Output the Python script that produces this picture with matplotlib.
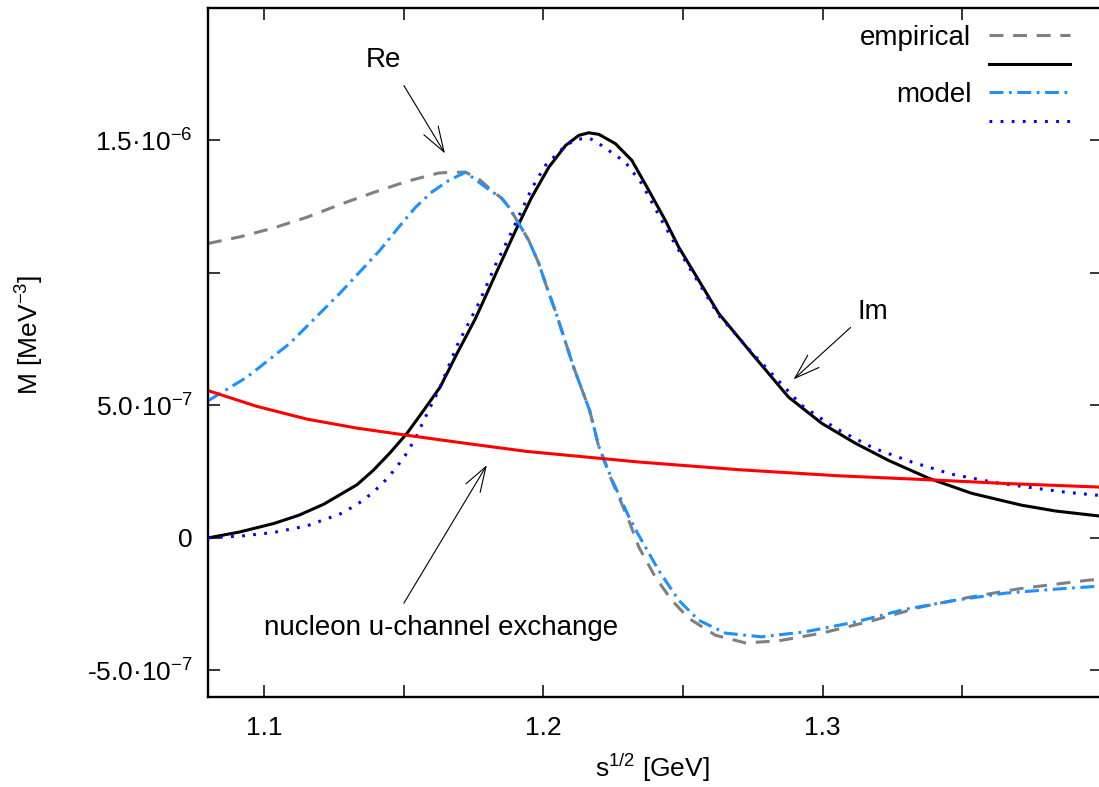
import numpy as np
import matplotlib
matplotlib.use("Agg")
import matplotlib.pyplot as plt

plt.rcParams['font.family'] = ['Liberation Sans', 'DejaVu Sans']
plt.rcParams['mathtext.fontset'] = 'custom'
plt.rcParams['mathtext.rm'] = 'Liberation Sans'
plt.rcParams['mathtext.it'] = 'Liberation Sans:italic'
plt.rcParams['mathtext.bf'] = 'Liberation Sans:bold'
plt.rcParams['lines.scale_dashes'] = False

# values, y in units of 1e-6 MeV^-3
x_re_emp = [1.080, 1.0914, 1.1036, 1.1154, 1.1272, 1.1394, 1.1513, 1.1626, 1.1673, 1.1722,
            1.1769, 1.1816, 1.1852, 1.1877, 1.1912, 1.1948, 1.1984, 1.2013, 1.2045, 1.2109,
            1.2166, 1.2199, 1.2245, 1.2306, 1.2342, 1.2401, 1.2460, 1.2521, 1.2616, 1.2724,
            1.2843, 1.2997, 1.3175, 1.3354, 1.3533, 1.3712, 1.3952, 1.400]
y_re_emp = [1.111, 1.136, 1.170, 1.210, 1.258, 1.304, 1.346, 1.377, 1.380, 1.380,
            1.355, 1.311, 1.281, 1.248, 1.187, 1.123, 1.036, 0.945, 0.851, 0.643,
            0.481, 0.342, 0.217, 0.066, -0.035, -0.148, -0.236, -0.304, -0.368, -0.397,
            -0.389, -0.360, -0.314, -0.261, -0.223, -0.191, -0.160, -0.156]

x_re_mod = [1.0803, 1.0939, 1.1093, 1.1272, 1.1415, 1.1483, 1.1543, 1.1601, 1.1662, 1.1722,
            1.1793, 1.1852, 1.1877, 1.1912, 1.1948, 1.1984, 1.2013, 1.2045, 1.2109, 1.2166,
            1.2199, 1.2245, 1.2306, 1.2342, 1.2413, 1.2485, 1.2556, 1.2652, 1.2782, 1.2938,
            1.3117, 1.3296, 1.3475, 1.3654, 1.3833, 1.400]
y_re_mod = [0.519, 0.606, 0.734, 0.923, 1.085, 1.173, 1.248, 1.305, 1.349, 1.380,
            1.324, 1.281, 1.248, 1.187, 1.123, 1.036, 0.945, 0.851, 0.643, 0.481,
            0.345, 0.222, 0.080, 0.009, -0.123, -0.236, -0.311, -0.360, -0.374, -0.355,
            -0.318, -0.270, -0.236, -0.209, -0.194, -0.182]

x_im_emp = [1.0803, 1.0914, 1.1036, 1.1125, 1.1215, 1.1333, 1.1392, 1.1451, 1.1512, 1.1572,
            1.1631, 1.1691, 1.1757, 1.1841, 1.1901, 1.1959, 1.2020, 1.2080, 1.2127, 1.2163,
            1.2199, 1.2258, 1.2317, 1.2378, 1.2437, 1.2485, 1.2628, 1.2746, 1.2878, 1.2997,
            1.3117, 1.3236, 1.3379, 1.3533, 1.3712, 1.3834, 1.400]
y_im_emp = [0.000, 0.022, 0.054, 0.085, 0.127, 0.200, 0.255, 0.320, 0.394, 0.481,
            0.569, 0.695, 0.827, 1.022, 1.160, 1.286, 1.399, 1.481, 1.519, 1.529,
            1.523, 1.488, 1.425, 1.311, 1.198, 1.097, 0.847, 0.696, 0.531, 0.432,
            0.357, 0.292, 0.225, 0.168, 0.123, 0.101, 0.081]

x_im_mod = [1.0803, 1.0914, 1.1035, 1.1154, 1.1273, 1.1333, 1.1392, 1.1440, 1.1476, 1.1512,
            1.1547, 1.1571, 1.1631, 1.1691, 1.1769, 1.1829, 1.1887, 1.1959, 1.2008, 1.2080,
            1.2120, 1.2165, 1.2209, 1.2294, 1.2352, 1.2424, 1.2485, 1.2628, 1.2746, 1.2925,
            1.3047, 1.3183, 1.3319, 1.3462, 1.3619, 1.3762, 1.3870, 1.400]
y_im_mod = [0.000, 0.006, 0.020, 0.045, 0.090, 0.125, 0.172, 0.222, 0.268, 0.320,
            0.385, 0.440, 0.569, 0.725, 0.885, 1.030, 1.155, 1.319, 1.406, 1.481,
            1.504, 1.509, 1.481, 1.418, 1.338, 1.198, 1.085, 0.840, 0.700, 0.500,
            0.413, 0.338, 0.286, 0.240, 0.208, 0.187, 0.172, 0.159]

x_nuc = [1.0796, 1.0975, 1.1154, 1.1333, 1.1512, 1.1726, 1.1941, 1.2342, 1.2699, 1.3057,
         1.3379, 1.3654, 1.400]
y_nuc = [0.557, 0.496, 0.448, 0.414, 0.387, 0.356, 0.326, 0.286, 0.257, 0.234,
         0.219, 0.205, 0.191]

scale = 1e-6

xticks = [1.1, 1.15, 1.2, 1.25, 1.3, 1.35]
xticklabels = ['1.1', '', '1.2', '', '1.3', '']
yticks = [-5e-7, 0, 5e-7, 1e-6, 1.5e-6]
yticklabels = [r'-5.0·10$^{-7}$', '0', r'5.0·10$^{-7}$', '', r'1.5·10$^{-6}$']

fs = 19
fs_txt = 20

fig = plt.figure(figsize=(10.99, 7.87), dpi=100)
ax = fig.add_axes([208/1099, 90.3/787, 894/1099, 688.7/787])

l_re_emp, = ax.plot(x_re_emp, np.array(y_re_emp)*scale, color='#808080', lw=2.2, dashes=(10, 7))
l_im_emp, = ax.plot(x_im_emp, np.array(y_im_emp)*scale, color='black', lw=2.2)
l_re_mod, = ax.plot(x_re_mod, np.array(y_re_mod)*scale, color='#1e90ff', lw=2.2, dashes=(10, 4, 2, 4))
l_im_mod, = ax.plot(x_im_mod, np.array(y_im_mod)*scale, color='#0000ff', lw=2.2, dashes=(2, 6))
ax.plot(x_nuc, np.array(y_nuc)*scale, color='#ff0000', lw=2.2)

ax.set_xlim(1.08, 1.40)
ax.set_ylim(-6e-7, 2e-6)
ax.set_xticks(xticks)
ax.set_xticklabels(xticklabels, fontsize=fs)
ax.set_yticks(yticks)
ax.set_yticklabels(yticklabels, fontsize=fs)
ax.tick_params(direction='in', length=8.6, width=1.1, top=True, right=True, pad=11)
ax.tick_params(axis='x', pad=14)
for s in ax.spines.values():
    s.set_linewidth(1.7)

fig.text(652/1099, 1-768/787, r'$\mathregular{s^{1/2}}$ [GeV]', fontsize=fs, ha='center', va='center')
fig.text(30/1099, 1-335/787, r'M [MeV$^{-3}$]', fontsize=fs, ha='center', va='center', rotation=90)

arr = dict(arrowstyle='->,head_length=0.9,head_width=0.3', lw=0.8, color='black', mutation_scale=20, shrinkA=0, shrinkB=0)
ax.annotate('', xy=(1.1648, 1.451e-6), xytext=(1.1501, 1.7075e-6), arrowprops=arr)
ax.text(1.1429, 1.802e-6, 'Re', fontsize=fs_txt, ha='center', va='center')
ax.annotate('', xy=(1.2896, 0.598e-6), xytext=(1.3100, 0.794e-6), arrowprops=arr)
ax.text(1.3179, 0.851e-6, 'Im', fontsize=fs_txt, ha='center', va='center')
ax.annotate('', xy=(1.1798, 0.274e-6), xytext=(1.1501, -0.247e-6), arrowprops=arr)
ax.text(1.1, -0.340e-6, 'nucleon u-channel exchange', fontsize=fs_txt, ha='left', va='center')

ax.legend([l_re_emp, l_im_emp, l_re_mod, l_im_mod], ['empirical', '', 'model', ''],
          loc='upper right', bbox_to_anchor=(0.964, 0.976), frameon=False, markerfirst=False,
          fontsize=fs_txt, handlelength=2.9, handletextpad=0.65, labelspacing=0.1,
          borderpad=0, borderaxespad=0)

fig.savefig('out.png', dpi=100)
